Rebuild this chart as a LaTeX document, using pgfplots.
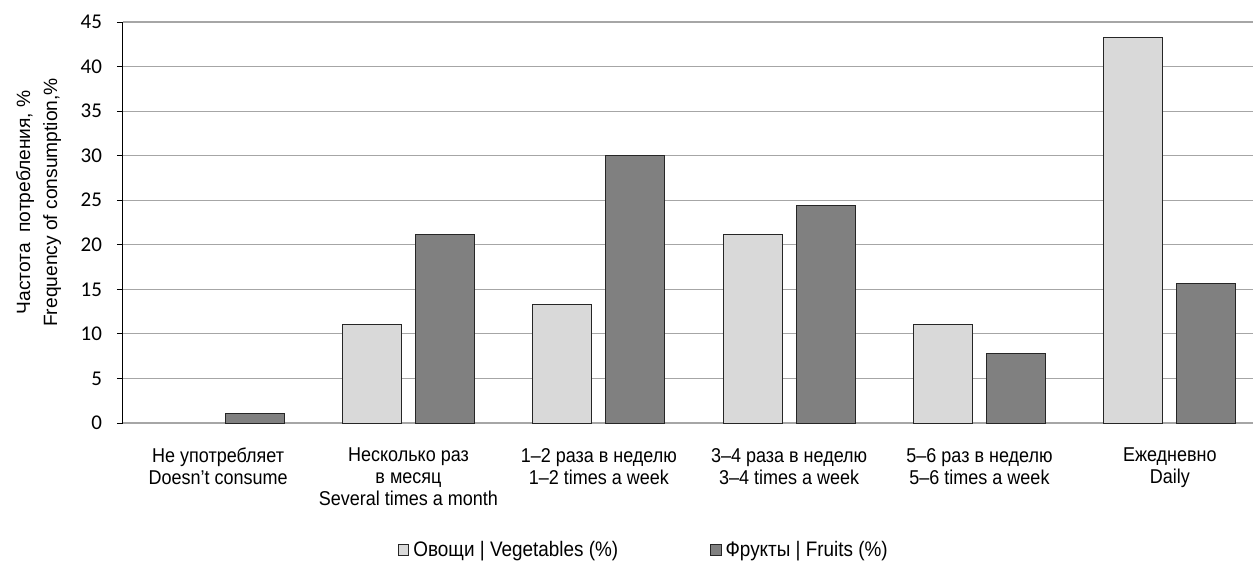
\documentclass[border=0pt]{standalone}
\usepackage{fontspec}
\setmainfont{Liberation Sans}
\newfontfamily\narrow[FakeStretch=0.9]{Liberation Sans}
\newfontfamily\carlito{Carlito}
\usepackage{pgfplots}
\pgfplotsset{compat=1.18}
\definecolor{veg}{HTML}{D9D9D9}
\definecolor{fru}{HTML}{808080}
\definecolor{gridc}{HTML}{A6A6A6}
\begin{document}
\begin{tikzpicture}
\path[use as bounding box] (-61.5pt,-70pt) rectangle (565pt,211.5pt);
\begin{axis}[
  at={(0,0)}, anchor=south west,
  scale only axis, width=571pt, height=200.5pt,
  xmin=-0.5, xmax=5.5, ymin=0, ymax=45,
  ytick={0,5,...,45},
  xtick={0,1,2,3,4,5},
  xticklabels={{Не употребляет\\Doesn’t consume},{Несколько раз\\в месяц\\Several times a month},{1–2 раза в неделю\\1–2 times a week},{3–4 раза в неделю\\3–4 times a week},{5–6 раз в неделю\\5–6 times a week},{Ежедневно\\Daily}},
  xticklabel style={align=center, font=\narrow\fontsize{10}{11}\selectfont, yshift=-6pt},
  yticklabel style={font=\carlito\fontsize{10.5}{12}\selectfont, xshift=-4pt},
  /pgf/number format/assume math mode=true,
  axis lines*=left,
  x axis line style={draw=gridc, line width=0.6pt},
  y axis line style={draw=black, line width=0.5pt},
  major x tick style={draw=none},
  major y tick style={draw=black, line width=0.5pt},
  tick align=outside, major tick length=3pt,
  ymajorgrids, grid style={draw=gridc, line width=0.6pt},
  ylabel={Частота\ \ потребления, \%\\Frequency of consumption,\%},
  ylabel style={align=center, font=\fontsize{9.6}{13.5}\selectfont, at={(axis description cs:-0.074,0.55)}, anchor=center},
  ybar, bar width=29.5pt,
  legend columns=2,
  legend style={draw=none, at={(axis description cs:0.457,-0.317)}, anchor=center, font=\narrow\fontsize{10.5}{12}\selectfont, /tikz/every even column/.append style={column sep=44pt}},
  legend image code/.code={\draw[#1] (0pt,-2.6pt) rectangle (5.2pt,2.6pt);},
]
\addplot[fill=veg, draw=black!85, line width=0.5pt, bar shift=-18.25pt] coordinates {(1,11.1) (2,13.3) (3,21.1) (4,11.1) (5,43.3)};
\addplot[fill=fru, draw=black!85, line width=0.5pt, bar shift=18.25pt] coordinates {(0,1.1) (1,21.1) (2,30.0) (3,24.4) (4,7.8) (5,15.6)};
\legend{Овощи | Vegetables (\%),Фрукты | Fruits (\%)}
\end{axis}
\end{tikzpicture}
\end{document}
